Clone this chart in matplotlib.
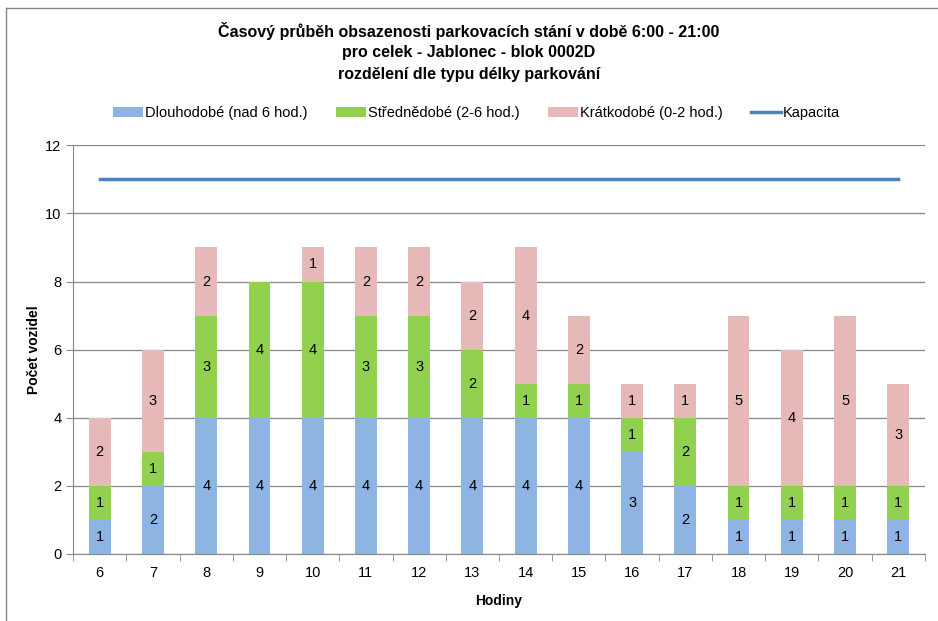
import matplotlib.pyplot as plt
from matplotlib.lines import Line2D
import numpy as np

plt.rcParams['font.family'] = ['Liberation Sans', 'DejaVu Sans']

hours = [6, 7, 8, 9, 10, 11, 12, 13, 14, 15, 16, 17, 18, 19, 20, 21]
dlouhodobe = [1, 2, 4, 4, 4, 4, 4, 4, 4, 4, 3, 2, 1, 1, 1, 1]
strednedobe = [1, 1, 3, 4, 4, 3, 3, 2, 1, 1, 1, 2, 1, 1, 1, 1]
kratkodobe = [2, 3, 2, 0, 1, 2, 2, 2, 4, 2, 1, 1, 5, 4, 5, 3]
kapacita = [11] * len(hours)

series = [
    ('Dlouhodobé (nad 6 hod.)', dlouhodobe, '#8EB4E3'),
    ('Střednědobé (2-6 hod.)', strednedobe, '#92D050'),
    ('Krátkodobé (0-2 hod.)', kratkodobe, '#E6B9B8'),
]
title_lines = ['Časový průběh obsazenosti parkovacích stání v době 6:00 - 21:00',
               'pro celek - Jablonec - blok 0002D',
               'rozdělení dle typu délky parkování']

fig = plt.figure(figsize=(9.38, 6.21), dpi=100)
ax = fig.add_axes([0.078, 0.108, 0.908, 0.658])

x = np.arange(len(hours))
bottom = np.zeros(len(hours))
handles = []
for name, vals, col in series:
    vals = np.array(vals)
    b = ax.bar(x, vals, 0.41, bottom=bottom, color=col, label=name, zorder=2)
    handles.append(b)
    for xi, v, bt in zip(x, vals, bottom):
        if v > 0:
            ax.text(xi, bt + v / 2, str(v), ha='center', va='center', fontsize=10.5, zorder=3)
    bottom += vals

line, = ax.plot(x, kapacita, color='#4F81BD', lw=2.5, label='Kapacita', zorder=3)
handles.append(line)

ax.set_xlim(-0.5, len(hours) - 0.5)
ax.set_ylim(0, 12)
ax.set_yticks(range(0, 13, 2))
ax.set_xticks(x)
ax.set_xticklabels([str(h) for h in hours], fontsize=10.5)
ax.set_xticks(np.arange(-0.5, len(hours)), minor=True)
ax.tick_params(axis='x', which='major', length=0, pad=9)
ax.tick_params(axis='x', which='minor', length=5, color='#868686')
ax.tick_params(axis='y', length=5, color='#868686', labelsize=10.5)
ax.yaxis.grid(True, color='#868686', lw=0.9, zorder=0)
for s in ['top', 'right']:
    ax.spines[s].set_visible(False)
for s in ['left', 'bottom']:
    ax.spines[s].set_color('#868686')

ax.set_xlabel('Hodiny', fontsize=10, fontweight='bold', labelpad=10)
ax.set_ylabel('Počet vozidel', fontsize=10, fontweight='bold', labelpad=3)

for i, t in enumerate(title_lines):
    fig.text(0.5, 1 - (31 + 21.5 * i) / 621, t, ha='center', va='center',
             fontsize=11.5, fontweight='bold')

fig.legend(handles=handles, labels=[h.get_label() for h in handles], loc='center',
           bbox_to_anchor=(0.508, 0.818), ncol=4, frameon=False, fontsize=10.5,
           handlelength=2.05, handleheight=0.65, columnspacing=1.95, handletextpad=0.15)

fig.add_artist(Line2D([0.006, 0.006], [0, 0.987], color='#868686', lw=1, transform=fig.transFigure))
fig.add_artist(Line2D([0.006, 1], [0.987, 0.987], color='#868686', lw=1, transform=fig.transFigure))

fig.savefig('out.png', dpi=100)
